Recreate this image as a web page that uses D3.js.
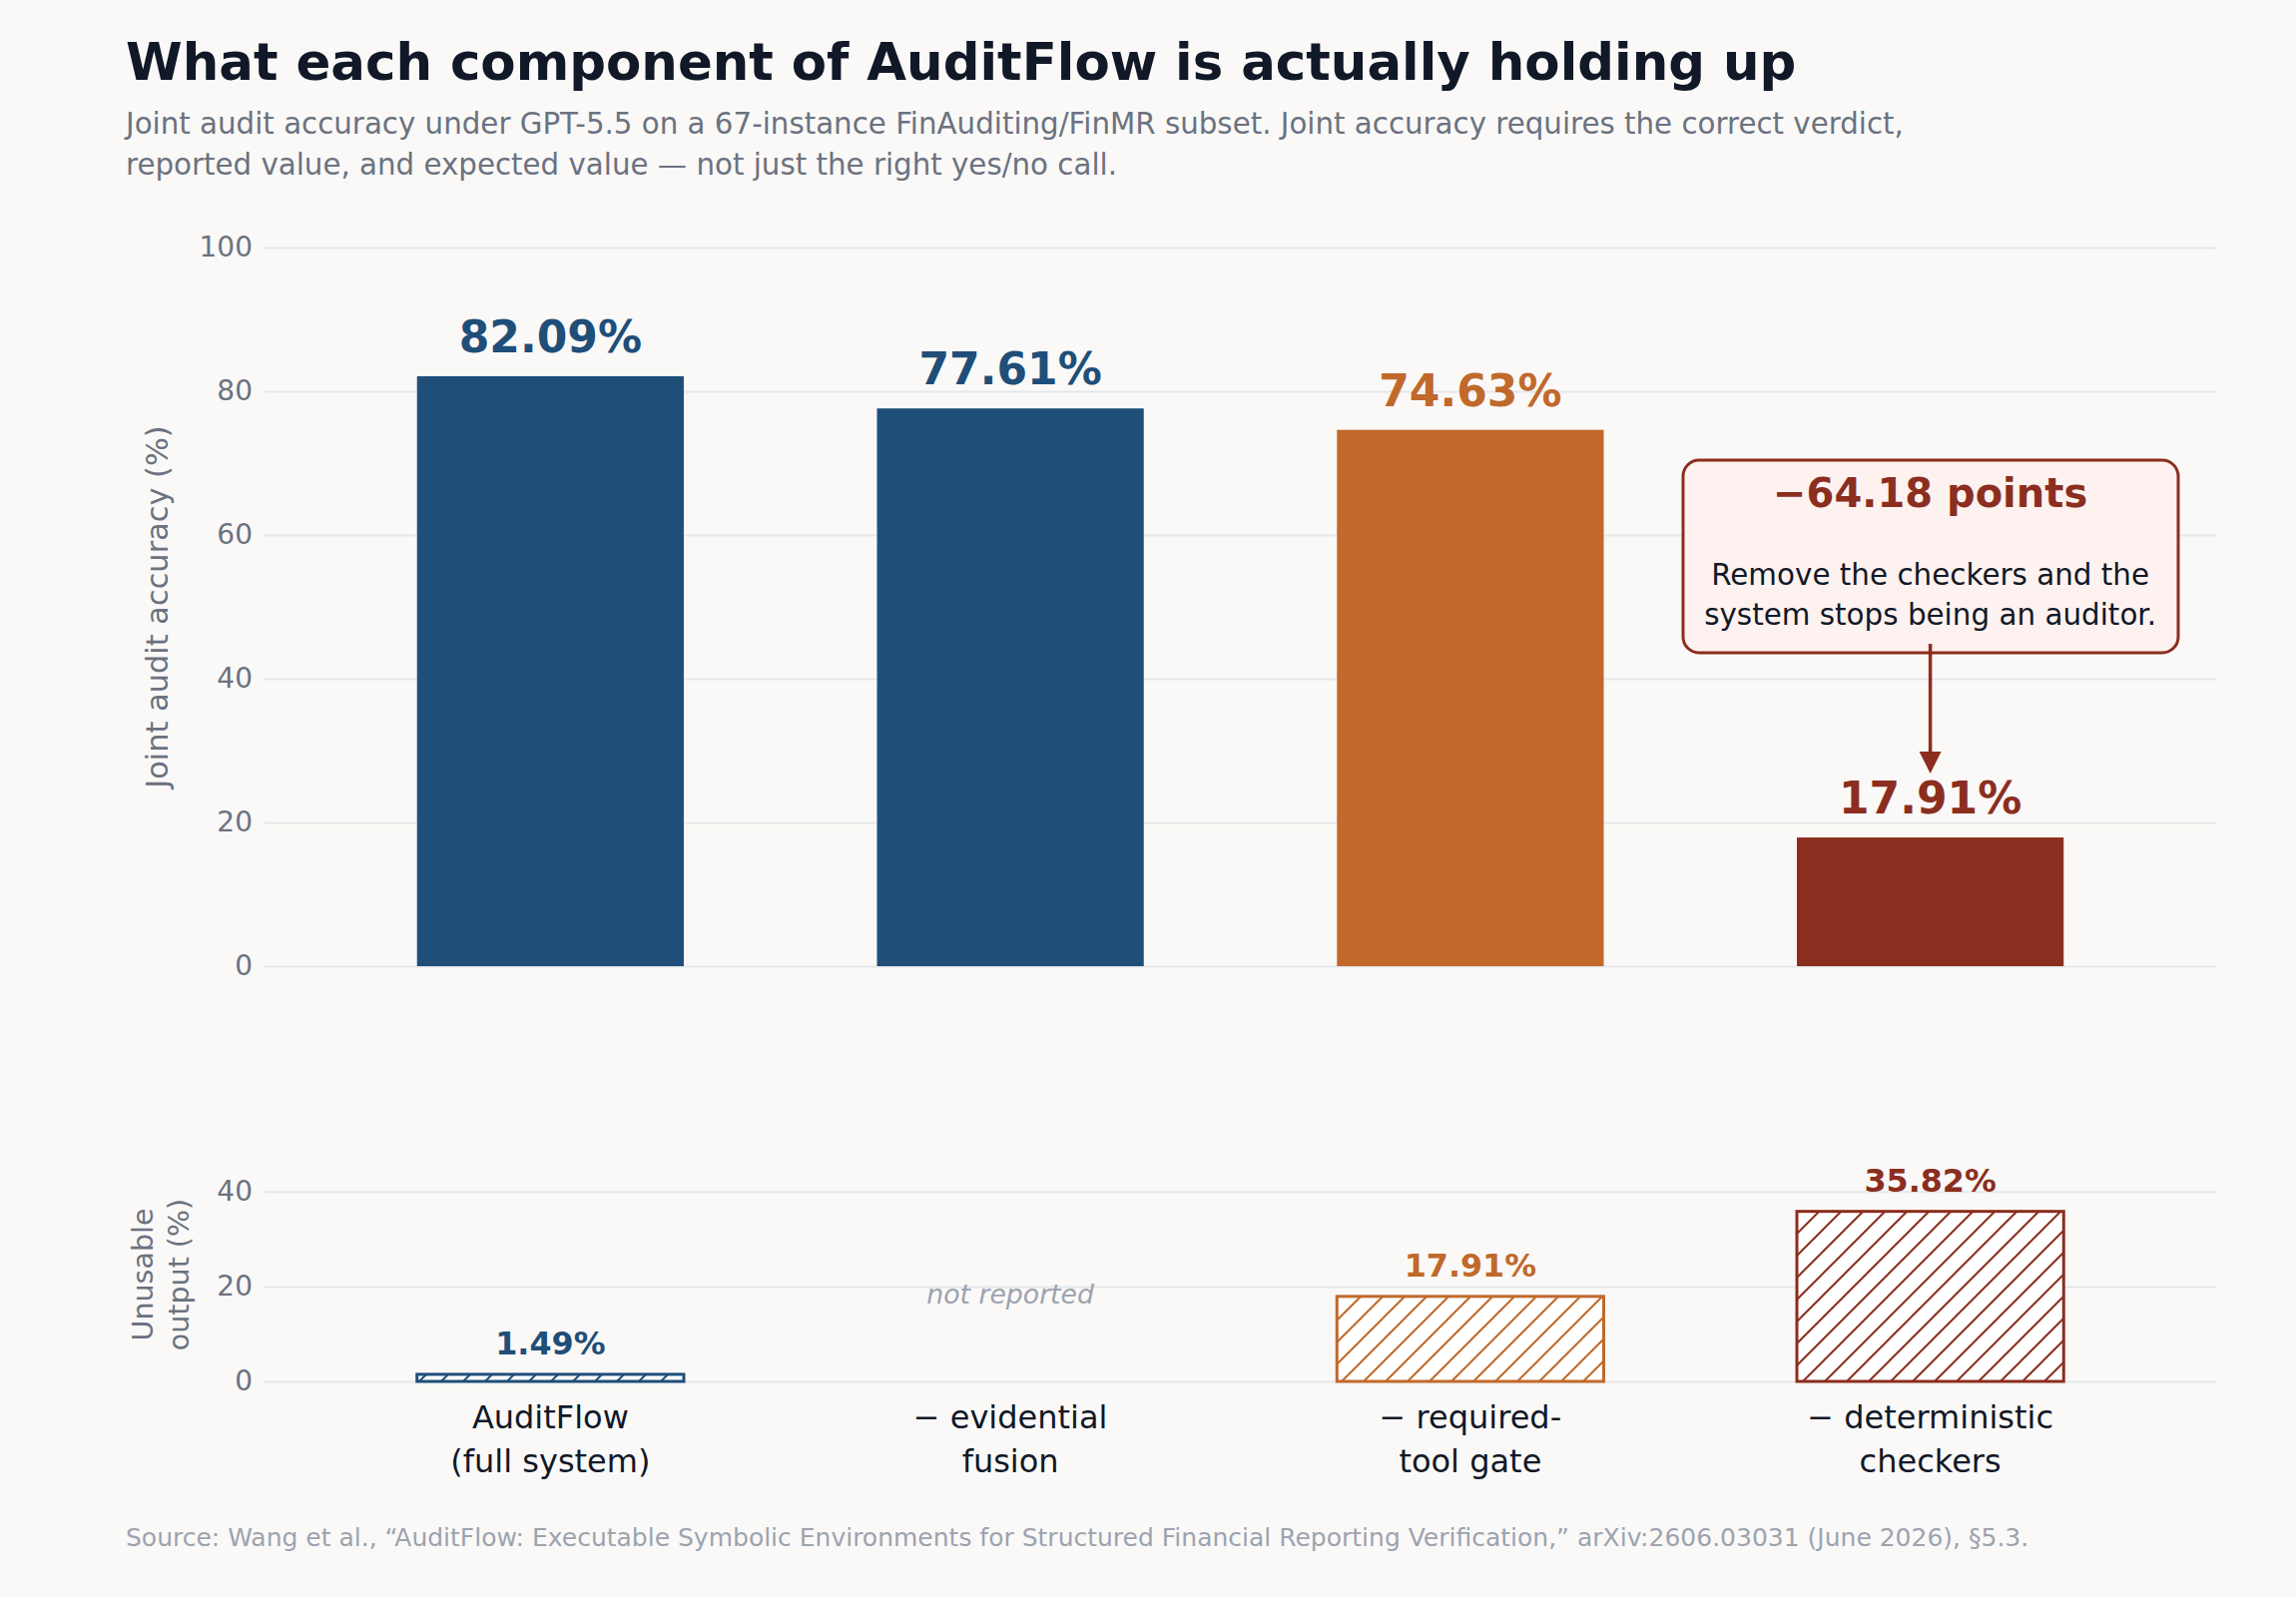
<!DOCTYPE html>
<html>
<head>
<meta charset="utf-8">
<script src="https://cdn.jsdelivr.net/npm/d3@7"></script>
<style>
  body { margin: 0; background: #faf9f7; }
  svg { display: block; font-family: "DejaVu Sans", sans-serif; }
</style>
</head>
<body>
<svg width="2300" height="1600"></svg>
<script>
// ---------------- data ----------------
var categories = [
    ["AuditFlow", "(full system)"],
    ["\u2212 evidential", "fusion"],
    ["\u2212 required-", "tool gate"],
    ["\u2212 deterministic", "checkers"]
];
var accuracy = [82.09, 77.61, 74.63, 17.91];
var unusable = [1.49, null, 17.91, 35.82];
var barColors = ["#1f4e79", "#1f4e79", "#c0692b", "#8b2e1f"];
var accTicks = [0, 20, 40, 60, 80, 100];
var unusableTicks = [0, 20, 40];

var svg = d3.select("svg");
svg.append("rect").attr("width", 2300).attr("height", 1600).attr("fill", "#faf9f7");

// layout
var left = 265, right = 2220;
var top1 = 248, bot1 = 968;       // accuracy panel
var top2 = 1170, bot2 = 1384;     // unusable panel

var x = d3.scaleBand()
    .domain(d3.range(categories.length))
    .range([left, right])
    .paddingInner(0.42)
    .paddingOuter(0.3315);

var yAcc = d3.scaleLinear().domain([0, 100]).range([bot1, top1]);
var yUn = d3.scaleLinear().domain([0, 45]).range([bot2, top2]);

// hatch patterns
var defs = svg.append("defs");
barColors.forEach(function(c, i) {
    var p = defs.append("pattern")
        .attr("id", "hatch" + i)
        .attr("patternUnits", "userSpaceOnUse")
        .attr("width", 22).attr("height", 22);
    p.append("rect").attr("width", 22).attr("height", 22).attr("fill", "#ffffff");
    p.append("path")
        .attr("d", "M0,22 L22,0 M-11,11 L11,-11 M11,33 L33,11")
        .attr("stroke", c).attr("stroke-width", 2);
});

// title + subtitle
svg.append("text").attr("x", 126).attr("y", 80)
    .attr("font-size", 51.4).attr("font-weight", "bold").attr("fill", "#111827")
    .text("What each component of AuditFlow is actually holding up");
var sub = [
    "Joint audit accuracy under GPT-5.5 on a 67-instance FinAuditing/FinMR subset. Joint accuracy requires the correct verdict,",
    "reported value, and expected value \u2014 not just the right yes/no call."
];
svg.selectAll(".sub").data(sub).enter().append("text")
    .attr("class", "sub")
    .attr("x", 126).attr("y", (d, i) => 134 + i * 41)
    .attr("font-size", 29.3).attr("fill", "#6b7280")
    .text(d => d);

function styleAxis(g) {
    g.select(".domain").remove();
    g.selectAll(".tick line").attr("stroke", "#e5e7eb").attr("stroke-width", 2);
    g.selectAll(".tick text").attr("fill", "#6b7280").attr("font-size", 28)
        .attr("font-family", "DejaVu Sans");
}

// ---------------- accuracy panel ----------------
svg.append("g")
    .attr("transform", "translate(" + left + ",0)")
    .call(d3.axisLeft(yAcc).tickValues(accTicks).tickSize(-(right - left)).tickPadding(12))
    .call(styleAxis);

svg.selectAll(".accbar").data(accuracy).enter().append("rect")
    .attr("class", "accbar")
    .attr("x", (d, i) => x(i))
    .attr("y", d => yAcc(d))
    .attr("width", x.bandwidth())
    .attr("height", d => yAcc(0) - yAcc(d))
    .attr("fill", (d, i) => barColors[i]);

svg.selectAll(".acclabel").data(accuracy).enter().append("text")
    .attr("class", "acclabel")
    .attr("x", (d, i) => x(i) + x.bandwidth() / 2)
    .attr("y", d => yAcc(d) - 24)
    .attr("text-anchor", "middle")
    .attr("font-size", 44).attr("font-weight", "bold")
    .attr("fill", (d, i) => barColors[i])
    .text(d => d.toFixed(2) + "%");

svg.append("text")
    .attr("transform", "translate(157," + ((top1 + bot1) / 2) + ") rotate(-90)")
    .attr("text-anchor", "middle").attr("dominant-baseline", "central")
    .attr("font-size", 30.4).attr("fill", "#6b7280")
    .text("Joint audit accuracy (%)");

// annotation
var red = barColors[3];
var cx = x(3) + x.bandwidth() / 2;
var drop = accuracy[0] - accuracy[3];
svg.append("rect")
    .attr("x", 1686).attr("y", 461).attr("width", 496).attr("height", 193)
    .attr("rx", 16)
    .attr("fill", "#fdf2ef").attr("stroke", red).attr("stroke-width", 3);
svg.append("text").attr("x", cx).attr("y", 508)
    .attr("text-anchor", "middle").attr("font-size", 40).attr("font-weight", "bold")
    .attr("fill", red)
    .text("\u2212" + drop.toFixed(2) + " points");
svg.selectAll(".note").data(["Remove the checkers and the", "system stops being an auditor."])
    .enter().append("text")
    .attr("class", "note")
    .attr("x", cx).attr("y", (d, i) => 586 + i * 40)
    .attr("text-anchor", "middle").attr("font-size", 29.4).attr("fill", "#111827")
    .text(d => d);
var tipY = yAcc(accuracy[3]) - 64;
svg.append("line")
    .attr("x1", cx).attr("x2", cx).attr("y1", 645).attr("y2", tipY - 18)
    .attr("stroke", red).attr("stroke-width", 3.5);
svg.append("path")
    .attr("d", "M" + (cx - 11) + "," + (tipY - 22) + " L" + (cx + 11) + "," + (tipY - 22) + " L" + cx + "," + tipY + " Z")
    .attr("fill", red);

// ---------------- unusable panel ----------------
svg.append("g")
    .attr("transform", "translate(" + left + ",0)")
    .call(d3.axisLeft(yUn).tickValues(unusableTicks).tickSize(-(right - left)).tickPadding(12))
    .call(styleAxis);

var unData = unusable.map((v, i) => ({ v: v, i: i }));

svg.selectAll(".unbar").data(unData.filter(d => d.v != null)).enter().append("rect")
    .attr("class", "unbar")
    .attr("x", d => x(d.i))
    .attr("y", d => yUn(d.v))
    .attr("width", x.bandwidth())
    .attr("height", d => yUn(0) - yUn(d.v))
    .attr("fill", d => "url(#hatch" + d.i + ")")
    .attr("stroke", d => barColors[d.i]).attr("stroke-width", 3);

svg.selectAll(".unlabel").data(unData).enter().append("text")
    .attr("class", "unlabel")
    .attr("x", d => x(d.i) + x.bandwidth() / 2)
    .attr("y", d => d.v != null ? yUn(d.v) - 20 : 1306)
    .attr("text-anchor", "middle")
    .attr("font-size", d => d.v != null ? 31.8 : 26.7)
    .attr("font-weight", d => d.v != null ? "bold" : "normal")
    .attr("font-style", d => d.v != null ? "normal" : "italic")
    .attr("fill", d => d.v != null ? barColors[d.i] : "#9ca3af")
    .text(d => d.v != null ? d.v.toFixed(2) + "%" : "not reported");

svg.selectAll(".unaxis").data(["Unusable", "output (%)"]).enter().append("text")
    .attr("class", "unaxis")
    .attr("transform", (d, i) => "translate(" + (143 + i * 36) + "," + ((top2 + bot2) / 2) + ") rotate(-90)")
    .attr("text-anchor", "middle").attr("dominant-baseline", "central")
    .attr("font-size", 28.5).attr("fill", "#6b7280")
    .text(d => d);

// category labels
var cat = svg.selectAll(".cat").data(categories).enter().append("text")
    .attr("class", "cat")
    .attr("text-anchor", "middle")
    .attr("font-size", 32).attr("fill", "#111827");
cat.selectAll("tspan").data((d, i) => d.map(t => ({ t: t, i: i }))).enter().append("tspan")
    .attr("x", d => x(d.i) + x.bandwidth() / 2)
    .attr("y", (d, j) => 1431 + j * 44)
    .text(d => d.t);

// source
svg.append("text").attr("x", 126).attr("y", 1549)
    .attr("font-size", 25).attr("fill", "#9ca3af")
    .text("Source: Wang et al., \u201cAuditFlow: Executable Symbolic Environments for Structured Financial Reporting Verification,\u201d arXiv:2606.03031 (June 2026), \u00a75.3.");
</script>
</body>
</html>
